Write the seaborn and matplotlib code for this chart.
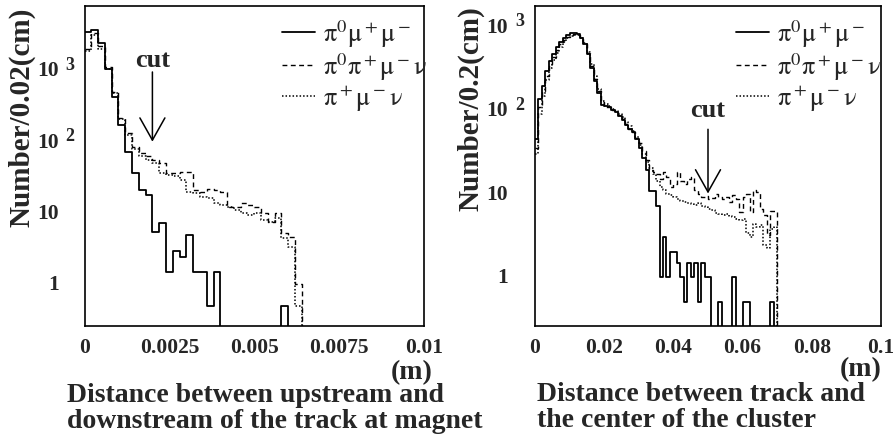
import numpy as np
import pandas as pd
import matplotlib
matplotlib.use("Agg")
import matplotlib.pyplot as plt
import seaborn as sns
from matplotlib.lines import Line2D
from matplotlib.ticker import FixedLocator, MultipleLocator, NullFormatter
from matplotlib.transforms import offset_copy

# ---------------- data ----------------
left_bin = 0.0002
left_nbins = 50
left_solid = [3400, 3700, 2450, 1030, 420, 173, 72, 36, 21, 18, 5.5, 7.3, 1.5, 2.9, 2.4,
              4.9, 1.5, 1.5, 0.5, 1.5, 0, 0, 0, 0, 0, 0, 0, 0, 0, 0.5]
left_dashed = [2000, 3300, 2200, 1100, 500, 218, 133, 85, 70, 62, 56, 50, 36, 36, 37,
               37, 21, 20, 22, 21, 20, 12, 12, 14, 13, 12, 10, 7.5, 10, 5.2, 4.6, 1.0]
left_dotted = [1900, 3100, 2000, 1050, 480, 210, 125, 80, 62, 55, 50, 36, 34, 33, 29,
               20, 19, 17, 16, 14, 13, 12, 11, 10, 9.5, 10, 8, 7.5, 8.5, 4.5, 3.3, 0.5]

right_bin = 0.001
right_nbins = 100
right_solid = [45, 136, 196, 298, 392, 472, 570, 660, 730, 800, 850, 850, 820, 730, 620,
               470, 325, 225, 163, 115, 113, 108, 101, 94, 85, 76, 66, 59, 54, 45,
               35, 27, 19, 10.6, 10.6, 7, 1.0, 3.0, 1.0, 2.0, 2.0, 1.45, 1.0, 0.5, 1.45,
               1.0, 1.45, 0.5, 1.45, 1.0, 1.0, 0, 0, 0.5, 0, 0, 0, 1.0, 0, 0,
               0.5, 0.5, 0, 0, 0, 0, 0, 0, 0.5, 0]
right_dashed = [35, 110, 170, 260, 360, 440, 530, 620, 700, 760, 800, 810, 790, 720, 620,
                480, 340, 240, 170, 125, 110, 110, 100, 95, 88, 78, 68, 60, 54, 46,
                40, 32, 25, 19, 18, 17, 15, 18, 16, 12, 13, 18, 14, 13, 15,
                15.6, 11, 10, 9, 9.3, 8.5, 8.8, 10, 9, 8.5, 9, 8, 9.5, 8.5, 6,
                9, 10, 6, 11, 10.5, 6.5, 5.5, 3.2, 6.1, 6.2]
right_dotted = [30, 90, 150, 230, 320, 400, 490, 580, 660, 730, 780, 800, 790, 740, 640,
                500, 360, 255, 180, 130, 118, 112, 104, 97, 90, 82, 72, 64, 56, 48,
                38, 30, 24, 20, 17, 14, 12, 11, 10, 9.5, 9, 8.5, 8.2, 8, 7.6,
                7.4, 7.3, 7.6, 7.0, 6.8, 6.5, 6.3, 5.8, 5.6, 5.5, 5.6, 5.4, 5.2, 5.0, 4.8,
                5.0, 3.4, 3.0, 4.3, 4.0, 4.2, 2.4, 2.2, 3.8, 4.0]

labels = [r"$\mathrm{\pi^0\mu^+\mu^-}$", r"$\mathrm{\pi^0\pi^+\mu^-\nu}$", r"$\mathrm{\pi^+\mu^-\nu}$"]
left_xticks = [0, 0.0025, 0.005, 0.0075, 0.01]
left_xticklabels = ["0", "0.0025", "0.005", "0.0075", "0.01"]
right_xticks = [0, 0.02, 0.04, 0.06, 0.08, 0.1]
right_xticklabels = ["0", "0.02", "0.04", "0.06", "0.08", "0.1"]
ytick_vals = [1, 10, 100, 1000]
ytick_base = ["1", "10", "10", "10"]
ytick_exp = ["", "", "2", "3"]
left_cut = 0.002
right_cut = 0.05
left_ylabel = "Number/0.02(cm)"
right_ylabel = "Number/0.2(cm)"
left_title = ["Distance between upstream and", "downstream of the track at magnet"]
right_title = ["Distance between track and", "the center of the cluster"]

# ---------------- style ----------------
sns.set_style("white")
plt.rcParams["font.family"] = ["Liberation Serif", "DejaVu Serif"]
plt.rcParams["mathtext.fontset"] = "stix"

W, H = 896, 439
fig = plt.figure(figsize=(W / 100, H / 100), dpi=100)
axL = fig.add_axes([84.5 / W, 1 - 327 / H, (424 - 84.5) / W, (327 - 7) / H])
axR = fig.add_axes([535 / W, 1 - 327 / H, (881 - 535) / W, (327 - 7) / H])


def pad(vals, n):
    return list(vals) + [0.0] * (n - len(vals))


styles = [dict(linestyle="-", linewidth=1.3),
          dict(linestyle=(0, (3.5, 2.5)), linewidth=1.0),
          dict(linestyle=(0, (1, 1.3)), linewidth=1.1)]


def draw(ax, series, binw, nb, xmax, ylim, xticks, xlabels, minor, label_off, cut, cut_y, cut_txt_y):
    edges = [i * binw for i in range(nb + 1)]
    centers = [(i + 0.5) * binw for i in range(nb)]
    for vals, st in zip(series, styles):
        df = pd.DataFrame({"x": centers, "w": pad(vals, nb)})
        sns.histplot(data=df, x="x", weights="w", bins=edges, element="step",
                     fill=False, color="black", ax=ax, **st)
    ax.set_yscale("log")
    ax.set_xlim(0, xmax)
    ax.set_ylim(*ylim)
    ax.set_xlabel("")
    ax.set_ylabel("")
    ax.xaxis.set_major_locator(FixedLocator(xticks))
    ax.xaxis.set_minor_locator(MultipleLocator(minor))
    ax.set_xticklabels(xlabels, fontsize=15.5, fontweight="bold")
    ax.yaxis.set_major_locator(FixedLocator(ytick_vals))
    ax.yaxis.set_minor_locator(FixedLocator([m * 10.0 ** e for e in range(-1, 4) for m in range(2, 10)]))
    ax.yaxis.set_major_formatter(NullFormatter())
    ax.yaxis.set_minor_formatter(NullFormatter())
    ax.tick_params(which="major", direction="in", length=10.5, width=1.0, color="black",
                   top=False, right=False, pad=8)
    ax.tick_params(which="minor", direction="in", length=5.5, width=0.9, color="black",
                   top=False, right=False)
    for s in ax.spines.values():
        s.set_color("black")
        s.set_linewidth(1.2)
    for v, b, e in zip(ytick_vals, ytick_base, ytick_exp):
        tr = offset_copy(ax.get_yaxis_transform(), fig=fig, x=-label_off, y=0, units="dots")
        ax.text(0, v, b, transform=tr, ha="right", va="center", fontsize=15.5, fontweight="bold")
        if e:
            tr2 = offset_copy(ax.get_yaxis_transform(), fig=fig, x=-label_off + 7, y=6, units="dots")
            ax.text(0, v, e, transform=tr2, ha="left", va="center", fontsize=13, fontweight="bold")
    handles = [Line2D([], [], color="black", **st) for st in styles]
    ax.legend(handles, labels, loc="upper left", bbox_to_anchor=(0.582, 0.965), frameon=False,
              fontsize=19, handlelength=1.25, handletextpad=0.3, labelspacing=0.05,
              borderaxespad=0.0, borderpad=0.0)
    ax.annotate("", xy=(cut, cut_y[1]), xytext=(cut, cut_y[0]),
                arrowprops=dict(arrowstyle="->,head_length=1.6,head_width=0.9",
                                color="black", lw=1.1, shrinkA=0, shrinkB=0))
    ax.text(cut, cut_txt_y, "cut", ha="center", va="baseline", fontsize=19, fontweight="bold")


draw(axL, [left_solid, left_dashed, left_dotted], left_bin, left_nbins, 0.01, (0.26, 8000),
     left_xticks, left_xticklabels, 0.0005, 26, left_cut, (950, 100), 1150)
draw(axR, [right_solid, right_dashed, right_dotted], right_bin, right_nbins, 0.1, (0.257, 1780),
     right_xticks, right_xticklabels, 0.005, 27, right_cut, (59, 10), 85)

fig.text(22 / W, 1 - 8 / H, left_ylabel, rotation=90, ha="center", va="top",
         fontsize=21, fontweight="bold")
fig.text(471 / W, 1 - 6 / H, right_ylabel, rotation=90, ha="center", va="top",
         fontsize=21, fontweight="bold")

fig.text(67 / W, 1 - 402 / H, left_title[0], ha="left", va="baseline", fontsize=20, fontweight="bold")
fig.text(67 / W, 1 - 428 / H, left_title[1], ha="left", va="baseline", fontsize=20, fontweight="bold")
fig.text(537 / W, 1 - 401 / H, right_title[0], ha="left", va="baseline", fontsize=20, fontweight="bold")
fig.text(537 / W, 1 - 427 / H, right_title[1], ha="left", va="baseline", fontsize=20, fontweight="bold")
fig.text(412 / W, 1 - 379 / H, "(m)", ha="center", va="baseline", fontsize=20, fontweight="bold")
fig.text(861 / W, 1 - 376 / H, "(m)", ha="center", va="baseline", fontsize=20, fontweight="bold")

fig.savefig("out.png", dpi=100)
